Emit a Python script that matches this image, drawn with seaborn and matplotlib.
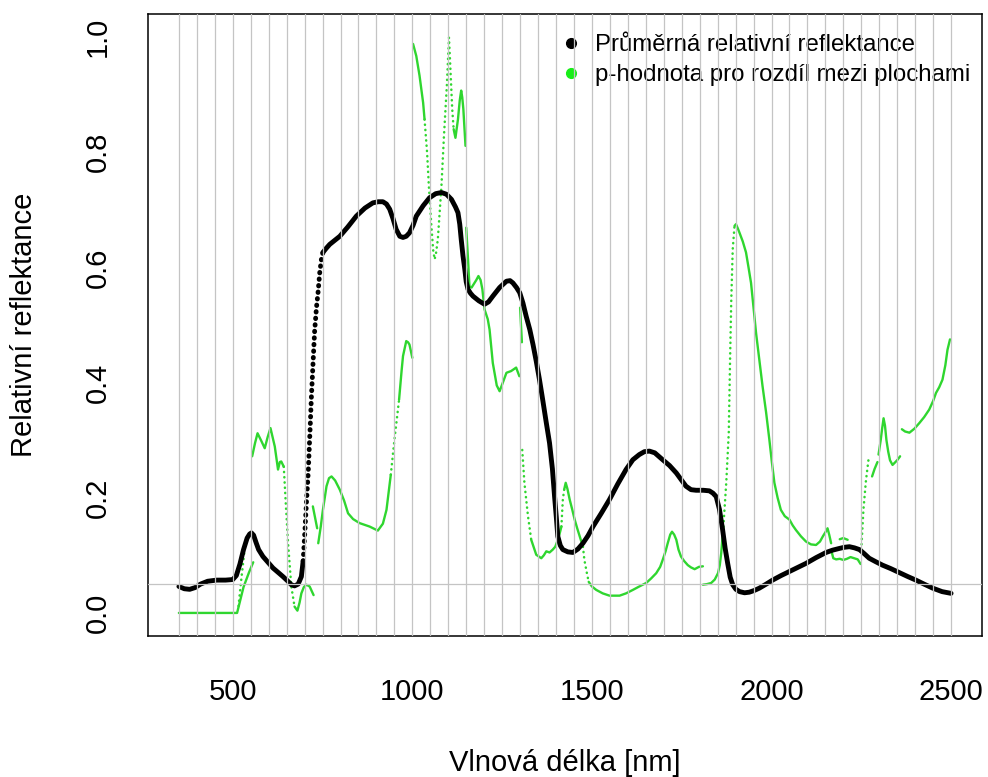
import numpy as np
import pandas as pd
import matplotlib
matplotlib.use("Agg")
import matplotlib.pyplot as plt
from matplotlib.lines import Line2D
import seaborn as sns

# prumerna relativni reflektance
black_nm = [350, 365, 380, 395, 410, 430, 455, 480, 500, 510, 520, 530, 540, 547, 552,
            558, 565, 572, 584, 598, 612, 627, 640, 652, 663, 672, 682, 691, 696, 700,
            705, 710, 715, 719, 724, 728, 733, 738, 742, 747, 751, 760, 770, 798, 820,
            844, 868, 890, 905, 918, 928, 937, 946, 955, 965, 974, 983, 992, 1002, 1011,
            1030, 1048, 1065, 1081, 1095, 1109, 1120, 1127, 1132, 1136, 1141, 1146, 1150, 1155, 1162,
            1169, 1185, 1201, 1212, 1224, 1243, 1262, 1272, 1280, 1290, 1299, 1308, 1317, 1327, 1336,
            1345, 1354, 1363, 1373, 1382, 1390, 1396, 1401, 1405, 1412, 1419, 1433, 1447, 1461, 1475,
            1489, 1503, 1526, 1549, 1572, 1595, 1614, 1632, 1646, 1660, 1675, 1697, 1716, 1735, 1749,
            1762, 1776, 1790, 1810, 1827, 1837, 1846, 1855, 1864, 1871, 1878, 1885, 1892, 1901, 1911,
            1925, 1938, 1952, 1966, 1985, 2003, 2027, 2050, 2073, 2096, 2124, 2152, 2170, 2189, 2203,
            2217, 2231, 2245, 2258, 2272, 2290, 2309, 2332, 2356, 2380, 2402, 2425, 2449, 2475, 2500]
black_refl = [0.046, 0.042, 0.041, 0.044, 0.050, 0.055, 0.057, 0.057, 0.058, 0.065, 0.085, 0.110, 0.130, 0.137, 0.139,
              0.135, 0.122, 0.110, 0.098, 0.088, 0.078, 0.070, 0.063, 0.056, 0.049, 0.047, 0.050, 0.063, 0.090, 0.133,
              0.190, 0.243, 0.315, 0.376, 0.440, 0.490, 0.530, 0.560, 0.590, 0.615, 0.626, 0.633, 0.640, 0.654, 0.670,
              0.689, 0.703, 0.712, 0.714, 0.714, 0.710, 0.701, 0.685, 0.666, 0.654, 0.652, 0.654, 0.660, 0.673, 0.689,
              0.707, 0.721, 0.728, 0.730, 0.727, 0.718, 0.705, 0.695, 0.675, 0.649, 0.620, 0.597, 0.575, 0.562, 0.555,
              0.550, 0.542, 0.536, 0.540, 0.550, 0.565, 0.576, 0.577, 0.573, 0.565, 0.556, 0.538, 0.515, 0.492, 0.466,
              0.437, 0.405, 0.370, 0.330, 0.295, 0.250, 0.202, 0.165, 0.133, 0.117, 0.110, 0.106, 0.105, 0.111, 0.121,
              0.134, 0.150, 0.173, 0.197, 0.224, 0.249, 0.266, 0.275, 0.280, 0.281, 0.278, 0.266, 0.256, 0.243, 0.231,
              0.220, 0.214, 0.213, 0.213, 0.212, 0.208, 0.202, 0.180, 0.144, 0.112, 0.086, 0.062, 0.049, 0.041, 0.037,
              0.035, 0.036, 0.039, 0.043, 0.050, 0.057, 0.065, 0.072, 0.079, 0.086, 0.096, 0.105, 0.109, 0.112, 0.114,
              0.115, 0.113, 0.110, 0.103, 0.095, 0.089, 0.083, 0.077, 0.070, 0.063, 0.057, 0.050, 0.043, 0.037, 0.034]
black_sparse = (696, 751)   # steep part drawn as separate dots in the original

# p-hodnota, split into pieces where the original jumps
green_nm = [350, 512, 520, 530, 545, 557,
            516, 524, 533,
            554, 562, 569, 580, 589, 597, 605, 611, 617, 626, 631, 635, 642,
            642, 647, 654, 663, 672,
            672, 680, 686, 691, 698, 705, 714, 725,
            723, 735,
            738, 745, 751, 761, 768, 775, 785, 798, 810, 821, 835, 853, 881, 904, 918, 928, 940,
            940, 950, 963,
            963, 970, 974, 983, 988, 992, 1000,
            1002, 1011, 1020, 1030, 1034,
            1034, 1041, 1046, 1053, 1058, 1062, 1066, 1071, 1081, 1088, 1096, 1102, 1106, 1111, 1115,
            1115, 1120, 1127, 1132, 1136, 1139, 1142, 1148,
            1150, 1155, 1159, 1165, 1170, 1178, 1184, 1190, 1195, 1201, 1210, 1215, 1224, 1235, 1243,
            1252, 1262, 1275, 1289, 1298,
            1300, 1305,
            1306, 1312, 1322, 1331,
            1331, 1345, 1359, 1366, 1373, 1382, 1391, 1398, 1405, 1411, 1415,
            1415, 1419, 1423,
            1423, 1427, 1432, 1438, 1445, 1452, 1459, 1466, 1475,
            1475, 1479, 1486, 1491,
            1491, 1500, 1512, 1530, 1549, 1577, 1595, 1614, 1632, 1651, 1665, 1679, 1690, 1697, 1705,
            1711, 1718, 1723, 1729, 1735, 1741, 1748, 1757, 1767, 1776, 1786, 1798, 1809,
            1809, 1820, 1832, 1842, 1851, 1856, 1860, 1866,
            1866, 1874, 1881, 1885, 1888, 1892, 1897,
            1897, 1901, 1906, 1911, 1920, 1929, 1936, 1943, 1950, 1957, 1966, 1975, 1985, 1994, 2001,
            2008, 2017, 2026, 2037, 2050, 2059, 2068, 2082, 2096, 2110, 2124, 2135, 2143, 2150, 2156,
            2161, 2166,
            2168, 2172, 2180, 2190, 2200, 2210, 2220, 2230, 2240, 2248,
            2190, 2200, 2212,
            2250, 2256, 2263, 2270,
            2280, 2287, 2295,
            2298, 2304, 2308, 2312, 2316, 2320, 2325, 2330, 2337, 2345, 2351, 2358,
            2363, 2372, 2384, 2398, 2412, 2425, 2439, 2450, 2458, 2467, 2476, 2484, 2490, 2497]
green_p = [0.0, 0.0, 0.02, 0.045, 0.07, 0.088,
           0.012, 0.06, 0.11,
           0.272, 0.295, 0.312, 0.298, 0.286, 0.305, 0.321, 0.305, 0.289, 0.249, 0.262, 0.263, 0.254,
           0.254, 0.197, 0.121, 0.046, 0.011,
           0.011, 0.004, 0.018, 0.034, 0.045, 0.049, 0.046, 0.031,
           0.185, 0.147,
           0.121, 0.150, 0.179, 0.220, 0.234, 0.237, 0.230, 0.214, 0.195, 0.173, 0.163, 0.156, 0.150, 0.143, 0.155, 0.179, 0.240,
           0.240, 0.300, 0.370,
           0.370, 0.420, 0.446, 0.472, 0.470, 0.466, 0.443,
           0.988, 0.967, 0.933, 0.886, 0.857,
           0.857, 0.800, 0.741, 0.672, 0.630, 0.614, 0.625, 0.649, 0.741, 0.828, 0.915, 0.999, 0.944, 0.875, 0.840,
           0.840, 0.825, 0.857, 0.890, 0.907, 0.895, 0.875, 0.811,
           0.669, 0.614, 0.567, 0.565, 0.570, 0.578, 0.585, 0.578, 0.562, 0.527, 0.510, 0.492, 0.434, 0.395, 0.385,
           0.400, 0.417, 0.420, 0.426, 0.411,
           0.530, 0.470,
           0.283, 0.226, 0.168, 0.127,
           0.127, 0.101, 0.095, 0.100, 0.107, 0.105, 0.110, 0.115, 0.127, 0.140, 0.150,
           0.150, 0.197, 0.215,
           0.215, 0.226, 0.215, 0.197, 0.180, 0.162, 0.147, 0.133, 0.115,
           0.115, 0.092, 0.069, 0.054,
           0.054, 0.046, 0.040, 0.034, 0.030, 0.030, 0.034, 0.040, 0.046, 0.052, 0.060, 0.069, 0.080, 0.092, 0.107,
           0.121, 0.136, 0.141, 0.136, 0.127, 0.110, 0.098, 0.090, 0.083, 0.079, 0.076, 0.080, 0.081,
           0.049, 0.050, 0.052, 0.058, 0.069, 0.083, 0.104, 0.150,
           0.150, 0.226, 0.313, 0.452, 0.544, 0.631, 0.672,
           0.672, 0.675, 0.668, 0.660, 0.645, 0.626, 0.600, 0.573, 0.530, 0.486, 0.440, 0.394, 0.348, 0.301, 0.262,
           0.226, 0.200, 0.179, 0.168, 0.162, 0.152, 0.144, 0.133, 0.124, 0.119, 0.118, 0.124, 0.133, 0.140, 0.147,
           0.135, 0.121,
           0.105, 0.095, 0.093, 0.094, 0.092, 0.094, 0.097, 0.095, 0.093, 0.085,
           0.128, 0.130, 0.127,
           0.110, 0.180, 0.230, 0.266,
           0.237, 0.250, 0.262,
           0.275, 0.300, 0.320, 0.338, 0.325, 0.300, 0.280, 0.265, 0.257, 0.262, 0.266, 0.272,
           0.319, 0.315, 0.313, 0.320, 0.330, 0.340, 0.353, 0.368, 0.382, 0.392, 0.405, 0.430, 0.457, 0.475]
green_seg = ([0] * 6 + [1] * 3 + [2] * 13 + [3] * 5 + [4] * 8 + [5] * 2 + [6] * 17 + [7] * 3
             + [8] * 7 + [9] * 5 + [10] * 15 + [11] * 8 + [12] * 20 + [13] * 2 + [14] * 4
             + [15] * 11 + [16] * 3 + [17] * 9 + [18] * 4 + [19] * 28 + [20] * 8 + [21] * 7
             + [22] * 32 + [23] * 10 + [24] * 3 + [25] * 4 + [26] * 3 + [27] * 12 + [28] * 14)
green_sparse = [1, 3, 7, 10, 14, 16, 18, 21, 25]

grid_nm = list(range(350, 2501, 50))
p_threshold = 0.05
x_ticks = [500, 1000, 1500, 2000, 2500]
y_ticks = [0.0, 0.2, 0.4, 0.6, 0.8, 1.0]
legend_labels = ["Průměrná relativní reflektance", "p-hodnota pro rozdíl mezi plochami"]

black_df = pd.DataFrame({"nm": black_nm, "refl": black_refl})
green_df = pd.DataFrame({"nm": green_nm, "p": green_p, "seg": green_seg})

sns.set_style("white")
plt.rcParams["font.family"] = ["Liberation Sans", "DejaVu Sans"]
plt.rcParams["text.color"] = "black"
plt.rcParams["axes.labelcolor"] = "black"

fig = plt.figure(figsize=(9.88, 7.77), dpi=100)
ax = fig.add_axes([0.1498, 0.1815, 0.8441, 0.8005])

green = "#2fd62f"
dense = green_df[~green_df.seg.isin(green_sparse)]
sparse = green_df[green_df.seg.isin(green_sparse)]
sns.lineplot(data=dense, x="nm", y="p", units="seg", estimator=None, sort=False,
             color=green, lw=1.7, ax=ax, legend=False)
sns.lineplot(data=sparse, x="nm", y="p", units="seg", estimator=None, sort=False,
             color=green, lw=1.8, linestyle=(0, (0.1, 2.0)), dash_capstyle="round",
             ax=ax, legend=False)

lo, hi = black_sparse
b_left = black_df[black_df.nm <= lo]
b_mid = black_df[(black_df.nm >= lo) & (black_df.nm <= hi)]
b_right = black_df[black_df.nm >= hi]
for part in (b_left, b_right):
    sns.lineplot(data=part, x="nm", y="refl", color="black", lw=3.5, ax=ax,
                 legend=False, solid_capstyle="round")
sns.lineplot(data=b_mid, x="nm", y="refl", color="black", lw=3.5,
             linestyle=(0, (0.1, 1.25)), dash_capstyle="round", ax=ax, legend=False)

# grey reference lines, drawn on top like abline() in R
for v in grid_nm:
    ax.axvline(v, color="#c4c4c4", lw=0.9, zorder=6)
ax.axhline(p_threshold, color="#c4c4c4", lw=0.9, zorder=6)

ax.set_xlim(264, 2586)
ax.set_ylim(-0.04, 1.04)
ax.set_xticks(x_ticks)
ax.set_yticks(y_ticks)
ax.set_yticklabels([f"{t:.1f}" for t in y_ticks])
ax.tick_params(axis="both", direction="out", length=13, width=1.0, color="black",
               labelsize=21, labelcolor="black")
ax.tick_params(axis="x", pad=17)
ax.tick_params(axis="y", pad=13, labelrotation=90)
for lab in ax.get_yticklabels():
    lab.set_va("center")

for s in ax.spines.values():
    s.set_color("black")
    s.set_linewidth(1.1)

ax.set_xlabel("Vlnová délka [nm]", fontsize=21, color="black")
ax.set_ylabel("Relativní reflektance", fontsize=21, color="black")
ax.xaxis.set_label_coords(0.5, -0.204)
ax.xaxis.label.set_va("center")
ax.yaxis.set_label_coords(-0.1487, 0.5)
ax.yaxis.label.set_va("center")

handles = [Line2D([], [], marker="o", ls="", color="black", markersize=7),
           Line2D([], [], marker="o", ls="", color="#18ee18", markersize=7)]
leg = ax.legend(handles, legend_labels, loc="upper right", bbox_to_anchor=(0.9856, 0.9678),
                frameon=False, fontsize=17.3, handlelength=0.8, handletextpad=0.6,
                labelspacing=0.35, borderpad=0, borderaxespad=0)
for t in leg.get_texts():
    t.set_color("black")

fig.savefig("out.png", dpi=100)
